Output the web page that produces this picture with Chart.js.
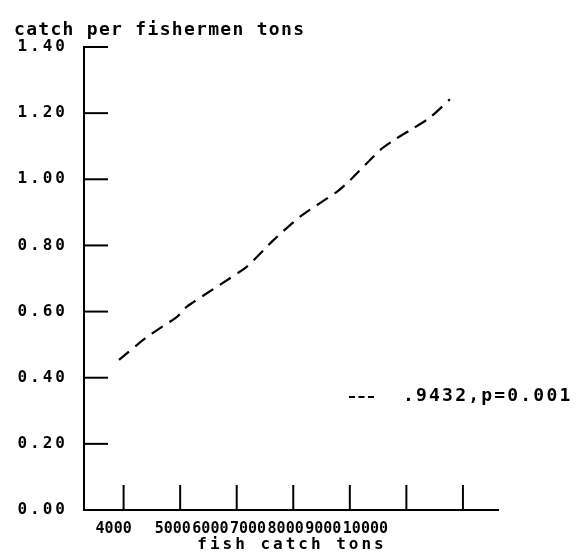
<!DOCTYPE html>
<html>
<head>
<meta charset="utf-8">
<title>catch per fishermen</title>
<script src="https://cdn.jsdelivr.net/npm/chart.js@4/dist/chart.umd.min.js"></script>
<style>
  html, body { margin: 0; padding: 0; background: #fff; }
  #wrap { width: 577px; height: 554px; }
</style>
</head>
<body>
<div id="wrap"><canvas id="chart"></canvas></div>
<script>
'use strict';

// fish catch (tons) vs catch per fisherman (tons)
const catchTons = [3920, 4420, 4950, 5120, 5650, 6180, 6650, 7120, 7770, 8010, 8540, 8830, 9120, 9420, 9770];
const perFisherman = [0.454, 0.524, 0.585, 0.615, 0.675, 0.736, 0.816, 0.887, 0.962, 0.998, 1.089, 1.124, 1.154, 1.187, 1.242];

const xTicks = [4000, 5000, 6000, 7000, 8000, 9000, 10000];
const yTicks = [0, 0.2, 0.4, 0.6, 0.8, 1.0, 1.2, 1.4];

const yTitle = 'catch per fishermen tons';
const xTitle = 'fish catch tons';
const fitLabel = '.9432,p=0.001';

const INK = '#000';
const MONO = '"DejaVu Sans Mono", "Liberation Mono", monospace';

/**
 * Plotter style extras: inward tick marks, crowded x labels,
 * axis titles and the correlation note.
 */
const plotterMarks = {
  id: 'plotterMarks',
  beforeDraw(chart) {
    // the old plotter font is spaced wide
    chart.ctx.letterSpacing = '3px';
  },
  afterDraw(chart) {
    const { ctx, chartArea, scales } = chart;
    const x = scales.x;
    const y = scales.y;

    ctx.save();
    ctx.strokeStyle = INK;
    ctx.fillStyle = INK;
    ctx.lineWidth = 2;

    // y ticks point into the plot
    yTicks.forEach((v) => {
      if (v === 0) {
        return;
      }
      const py = y.getPixelForValue(v);
      ctx.beginPath();
      ctx.moveTo(chartArea.left, py);
      ctx.lineTo(chartArea.left + 24, py);
      ctx.stroke();
    });

    // x ticks stand up from the axis
    xTicks.forEach((v) => {
      const px = x.getPixelForValue(v);
      ctx.beginPath();
      ctx.moveTo(px, chartArea.bottom);
      ctx.lineTo(px, chartArea.bottom - 25);
      ctx.stroke();
    });

    // x labels are packed together, not centred on their ticks
    ctx.font = 'bold 15px ' + MONO;
    ctx.letterSpacing = '0px';
    ctx.textAlign = 'left';
    ctx.textBaseline = 'alphabetic';
    let cursor = x.getPixelForValue(xTicks[0]) - 28;
    xTicks.forEach((v, i) => {
      const txt = String(v);
      ctx.fillText(txt, cursor, chartArea.bottom + 23);
      cursor += ctx.measureText(txt).width + (i === 0 ? 23 : 1.5);
    });

    // axis titles
    ctx.font = 'bold 18px ' + MONO;
    ctx.letterSpacing = '1.3px';
    ctx.fillText(yTitle, 14, 35);

    ctx.font = 'bold 16px ' + MONO;
    ctx.letterSpacing = '3px';
    ctx.textAlign = 'center';
    ctx.fillText(xTitle, 292, chartArea.bottom + 39);

    // fit note with a short dashed sample
    ctx.setLineDash([6, 3.5]);
    ctx.beginPath();
    ctx.moveTo(349, 397);
    ctx.lineTo(376, 397);
    ctx.stroke();
    ctx.setLineDash([]);

    ctx.font = 'bold 18px ' + MONO;
    ctx.letterSpacing = '2.2px';
    ctx.textAlign = 'left';
    ctx.fillText(fitLabel, 403, 401);

    ctx.restore();
    ctx.letterSpacing = '0px';
  },
};

const points = catchTons.map((t, i) => ({ x: t, y: perFisherman[i] }));

const chartConfig = {
  type: 'line',
  data: {
    datasets: [
      {
        data: points,
        borderColor: INK,
        borderWidth: 2.2,
        borderDash: [13, 8],
        tension: 0.2,
        pointRadius: 0,
        fill: false,
      },
    ],
  },
  options: {
    responsive: true,
    maintainAspectRatio: false,
    animation: false,
    layout: {
      padding: { top: 47, right: 79, bottom: 0, left: 0 },
    },
    plugins: {
      legend: { display: false },
      tooltip: { enabled: false },
    },
    scales: {
      x: {
        type: 'linear',
        min: 3300,
        max: 10620,
        ticks: { display: false },
        grid: { display: false, drawTicks: false },
        border: { display: true, color: INK, width: 2 },
        afterFit(scale) {
          scale.height = 44;
        },
      },
      y: {
        min: 0,
        max: 1.4,
        afterBuildTicks(scale) {
          scale.ticks = yTicks.map((v) => ({ value: v }));
        },
        ticks: {
          color: INK,
          padding: 16,
          font: { family: MONO, size: 16, weight: 'bold' },
          callback: (v) => Number(v).toFixed(2),
        },
        grid: { display: false, drawTicks: false },
        border: { display: true, color: INK, width: 2 },
        afterFit(scale) {
          scale.width = 84;
        },
      },
    },
  },
  plugins: [plotterMarks],
};

new Chart(document.getElementById('chart'), chartConfig);
</script>
</body>
</html>
